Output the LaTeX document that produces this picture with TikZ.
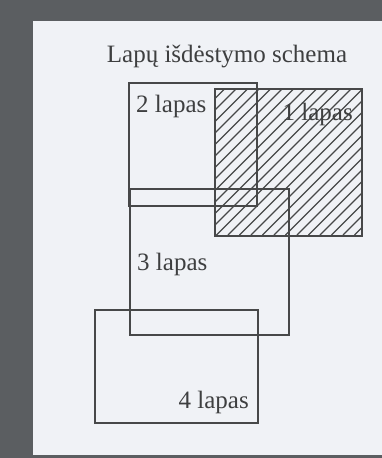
\documentclass[tikz,border=0pt]{standalone}
\usepackage{fontspec}
\setmainfont{Liberation Serif}
\definecolor{bg}{HTML}{5B5E61}
\definecolor{paper}{HTML}{F0F2F6}
\definecolor{ink}{HTML}{474849}
\definecolor{txt}{HTML}{3E3F40}
\tikzset{
  page/.style={draw=ink, line width=2pt, inner sep=0pt, anchor=north west},
  lbl/.style={text=txt, font=\fontsize{25}{28}\selectfont, inner sep=0pt},
  hatch/.style={draw=ink, line width=1.3pt}
}
\begin{document}
\begin{tikzpicture}[x=1pt,y=-1pt]
\useasboundingbox (0,0) rectangle (382,458);
\fill[bg] (0,0) rectangle (382,458);
\fill[paper] (33,21) rectangle (382,455);
% title
\node[lbl, anchor=base] (title) at (227,62) {Lapų išdėstymo schema};
% page 1 hatching
\begin{scope}
  \clip (214,88) rectangle (361,235);
  \foreach \i in {0,...,26} {
    \draw[hatch] ({214-147+\i*11.5},235) -- ({214+\i*11.5},88);
  }
\end{scope}
\node[page, minimum width=147pt, minimum height=147pt] (p1) at (214,88) {};
\node[page, minimum width=128pt, minimum height=123pt] (p2) at (128,82) {};
\node[page, minimum width=159pt, minimum height=146pt] (p3) at (129,188) {};
\node[page, minimum width=163pt, minimum height=113pt] (p4) at (94,309) {};
% labels
\node[lbl, anchor=base west] (l2) at (136,112) {2 lapas};
\node[lbl, anchor=base east] (l1) at (353,120) {1 lapas};
\node[lbl, anchor=base west] (l3) at (137,270) {3 lapas};
\node[lbl, anchor=base east] (l4) at (249,408) {4 lapas};
\end{tikzpicture}
\end{document}
